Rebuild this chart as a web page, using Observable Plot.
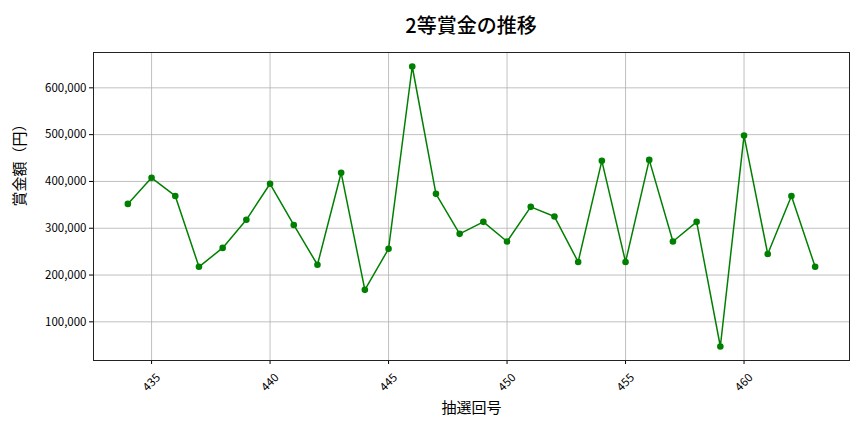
<!DOCTYPE html>
<html>
<head>
<meta charset="utf-8">
<script src="https://cdn.jsdelivr.net/npm/d3@7"></script>
<script src="https://cdn.jsdelivr.net/npm/@observablehq/plot@0.6"></script>
<style>
  body { margin: 0; background: #fff; font-family: "Noto Sans CJK JP", "Noto Sans", sans-serif; }
  #title { height: 44px; margin-left: 93px; width: 756px; text-align: center; font-size: 20px; font-weight: 500; padding-top: 6px; line-height: 38px; box-sizing: border-box; color: #000; }
</style>
</head>
<body>
<div id="title">2等賞金の推移</div>
<div id="chart"></div>
<script>
const draws = [434, 435, 436, 437, 438, 439, 440, 441, 442, 443, 444, 445, 446, 447, 448,
               449, 450, 451, 452, 453, 454, 455, 456, 457, 458, 459, 460, 461, 462, 463];
const prizes = [352000, 407700, 369000, 217600, 258000, 318000, 395000, 307000, 222000, 418500,
                168400, 256000, 645600, 373500, 288000, 313700, 271600, 345700, 325000, 228000,
                444000, 228000, 446000, 271600, 313700, 47300, 498000, 245000, 369000, 217600];
const xTicks = [435, 440, 445, 450, 455, 460];
const yTicks = [100000, 200000, 300000, 400000, 500000, 600000];

const data = draws.map((d, i) => ({draw: d, prize: prizes[i]}));
const font = "Noto Sans CJK JP";

const chart = Plot.plot({
  width: 864,
  height: 388,
  marginLeft: 93,
  marginRight: 15,
  marginTop: 8,
  marginBottom: 72,
  style: {fontFamily: font, background: "#fff", color: "#000"},
  x: {domain: [432.55, 464.45]},
  y: {domain: [17400, 675500]},
  marks: [
    Plot.gridX(xTicks, {stroke: "#b0b0b0", strokeOpacity: 1, strokeWidth: 0.8}),
    Plot.gridY(yTicks, {stroke: "#b0b0b0", strokeOpacity: 1, strokeWidth: 0.8}),
    Plot.axisY(yTicks, {tickFormat: d3.format(","), tickSize: 4, tickPadding: 3, fontSize: 11.5, label: null, stroke: "#000"}),
    Plot.axisX(xTicks, {tickSize: 4, tickFormat: () => "", label: null, stroke: "#000"}),
    Plot.text(xTicks, {x: d => d, frameAnchor: "bottom", dy: 22, rotate: -45, text: d => String(d), fontSize: 11.5, textAnchor: "middle", lineAnchor: "middle", fill: "#000"}),
    Plot.text(["抽選回号"], {frameAnchor: "bottom", dy: 48, fontSize: 15, fill: "#000", lineAnchor: "middle"}),
    Plot.text(["賞金額（円）"], {frameAnchor: "left", dx: -73, rotate: -90, fontSize: 15, fill: "#000", lineAnchor: "middle"}),
    Plot.frame({stroke: "#222", strokeWidth: 1}),
    Plot.line(data, {x: "draw", y: "prize", stroke: "#008000", strokeWidth: 1.5}),
    Plot.dot(data, {x: "draw", y: "prize", r: 3.3, fill: "#008000", stroke: "none"})
  ]
});
document.getElementById("chart").appendChild(chart);
</script>
</body>
</html>
